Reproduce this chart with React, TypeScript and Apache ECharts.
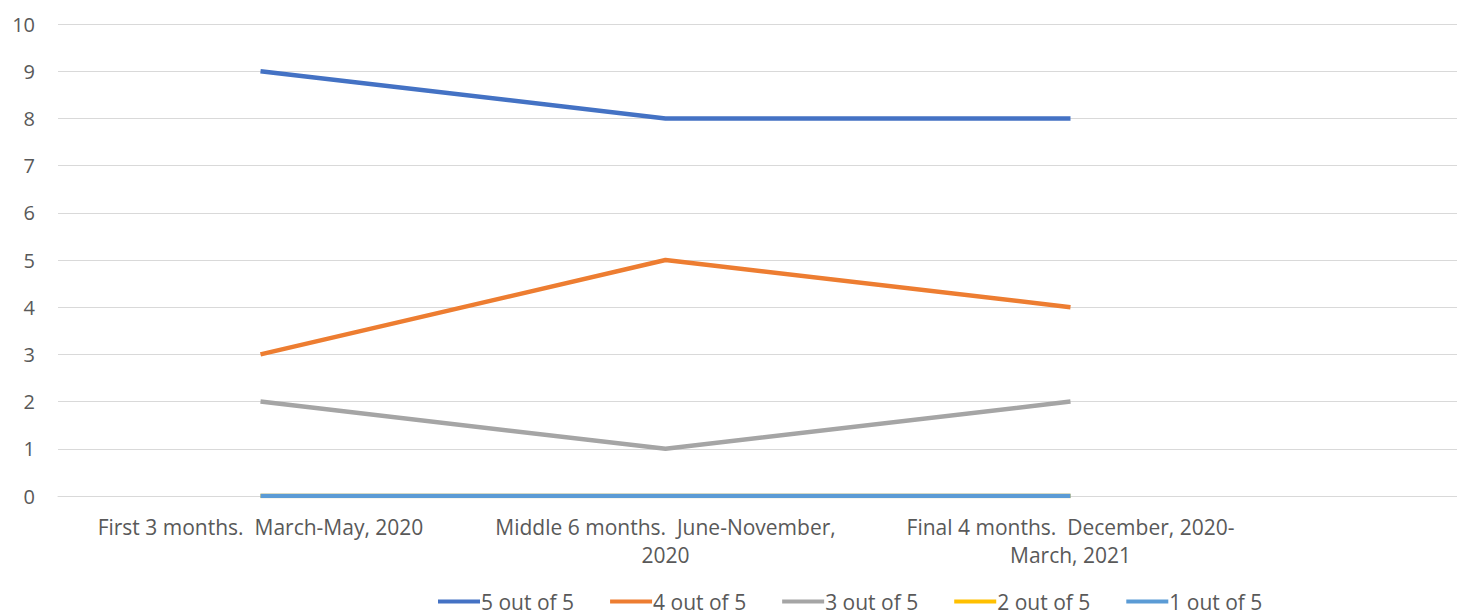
import React, { useEffect, useRef } from "react";
import * as echarts from "echarts";

const categories = [
  "First 3 months.  March-May, 2020",
  "Middle 6 months.  June-November,\n2020",
  "Final 4 months.  December, 2020-\nMarch, 2021",
  "",
];
const seriesNames = ["5 out of 5", "4 out of 5", "3 out of 5", "2 out of 5", "1 out of 5"];
const five = [9, 8, 8];
const four = [3, 5, 4];
const three = [2, 1, 2];
const two = [0, 0, 0];
const one = [0, 0, 0];
const colors = ["#4472C4", "#ED7D31", "#A5A5A5", "#FFC000", "#5B9BD5"];

export default function App() {
  const ref = useRef<HTMLDivElement>(null);
  useEffect(() => {
    if (!ref.current) return;
    const chart = echarts.init(ref.current, null, { renderer: "svg" });
    const values = [five, four, three, two, one];
    chart.setOption({
      animation: false,
      color: colors,
      textStyle: { fontFamily: "Open Sans" },
      grid: { left: 58, width: 1620, top: 24, bottom: 118, containLabel: false },
      legend: {
        left: 438,
        top: 591,
        padding: 0,
        itemWidth: 42,
        itemHeight: 4,
        itemGap: 36,
        icon: "rect",
        textStyle: { color: "#595959", fontSize: 21, padding: [0, 0, 0, -4] },
        data: seriesNames,
      },
      xAxis: {
        type: "category",
        data: categories,
        boundaryGap: true,
        axisLine: { show: true, lineStyle: { color: "#D9D9D9", width: 1 } },
        axisTick: { show: false },
        axisLabel: {
          color: "#595959",
          fontSize: 21,
          lineHeight: 28,
          margin: 17,
          interval: 0,
        },
      },
      yAxis: {
        type: "value",
        min: 0,
        max: 10,
        interval: 1,
        axisLine: { show: false },
        axisTick: { show: false },
        splitLine: { lineStyle: { color: "#D9D9D9", width: 1 } },
        axisLabel: { color: "#595959", fontSize: 20, margin: 23 },
      },
      series: seriesNames.map((name, i) => ({
        name,
        type: "line",
        data: values[i],
        symbol: "none",
        lineStyle: { width: 4.5, color: colors[i] },
        itemStyle: { color: colors[i] },
      })),
    });
    return () => chart.dispose();
  }, []);
  return (
    <div style={{ position: "absolute", left: 0, top: 0, width: 1457, height: 614, overflow: "hidden", background: "#fff" }}>
      <div ref={ref} style={{ width: 1700, height: 614 }} />
    </div>
  );
}
